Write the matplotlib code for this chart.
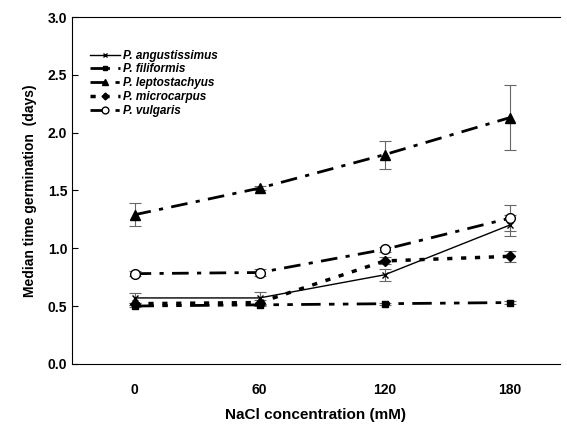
import matplotlib.pyplot as plt

plt.rcParams['font.family'] = 'Liberation Sans'

# NaCl concentration (mM)
nacl = [0, 60, 120, 180]

species = ['P. angustissimus', 'P. filiformis', 'P. leptostachyus',
           'P. microcarpus', 'P. vulgaris']

angustissimus = [0.57, 0.57, 0.77, 1.20]
angustissimus_err = [0.04, 0.05, 0.05, 0.09]
filiformis = [0.50, 0.51, 0.52, 0.53]
filiformis_err = [0.01, 0.01, 0.01, 0.01]
leptostachyus = [1.29, 1.52, 1.81, 2.13]
leptostachyus_err = [0.10, 0.02, 0.12, 0.28]
microcarpus = [0.52, 0.53, 0.89, 0.93]
microcarpus_err = [0.01, 0.02, 0.03, 0.05]
vulgaris = [0.78, 0.79, 0.99, 1.26]
vulgaris_err = [0.02, 0.03, 0.02, 0.11]

fig = plt.figure(figsize=(5.67, 4.29), dpi=100)
ax = fig.add_axes([0.127, 0.152, 0.86, 0.808])

series = [
    (angustissimus, angustissimus_err, dict(ls='-', lw=1.0, marker='x', ms=5, mfc='none')),
    (filiformis, filiformis_err, dict(ls=(0, (7, 3, 2, 3, 2, 3)), lw=2.0, marker='s', ms=5)),
    (leptostachyus, leptostachyus_err, dict(ls=(0, (6, 3, 1.5, 3)), lw=2.0, marker='^', ms=7)),
    (microcarpus, microcarpus_err, dict(ls=(0, (1.5, 2.5)), lw=2.5, marker='D', ms=5)),
    (vulgaris, vulgaris_err, dict(ls=(0, (6, 3, 1.5, 3)), lw=2.0, marker='o', ms=7, mfc='white')),
]

handles = []
for (vals, err, style), name in zip(series, species):
    cont = ax.errorbar(nacl, vals, yerr=err, color='black', ecolor='0.4', elinewidth=0.8,
                       capsize=4, capthick=0.8, label=name, **style)
    handles.append(cont.lines[0])

ax.set_xlim(-30, 204)
ax.set_ylim(0, 3.0)
ax.set_xticks(nacl)
ax.set_yticks([0.0, 0.5, 1.0, 1.5, 2.0, 2.5, 3.0])
ax.set_yticklabels(['0.0', '0.5', '1.0', '1.5', '2.0', '2.5', '3.0'])
ax.tick_params(axis='x', length=0, pad=14, labelsize=10)
ax.tick_params(axis='y', length=4, direction='in', labelsize=10)
for lab in ax.get_xticklabels() + ax.get_yticklabels():
    lab.set_fontweight('bold')
ax.spines['right'].set_visible(False)
for s in ['left', 'bottom', 'top']:
    ax.spines[s].set_linewidth(0.8)

ax.set_xlabel('NaCl concentration (mM)', fontsize=11, fontweight='bold', labelpad=8)
ax.set_ylabel('Median time germination  (days)', fontsize=10, fontweight='bold', labelpad=8)

ax.legend(handles, species, loc='upper left', bbox_to_anchor=(0.02, 0.93), frameon=False,
          prop=dict(style='italic', weight='bold', size=8.5), handlelength=2.5,
          labelspacing=0.15, borderpad=0.2, handletextpad=0.3, markerscale=0.7)

fig.savefig('out.png', dpi=100)
